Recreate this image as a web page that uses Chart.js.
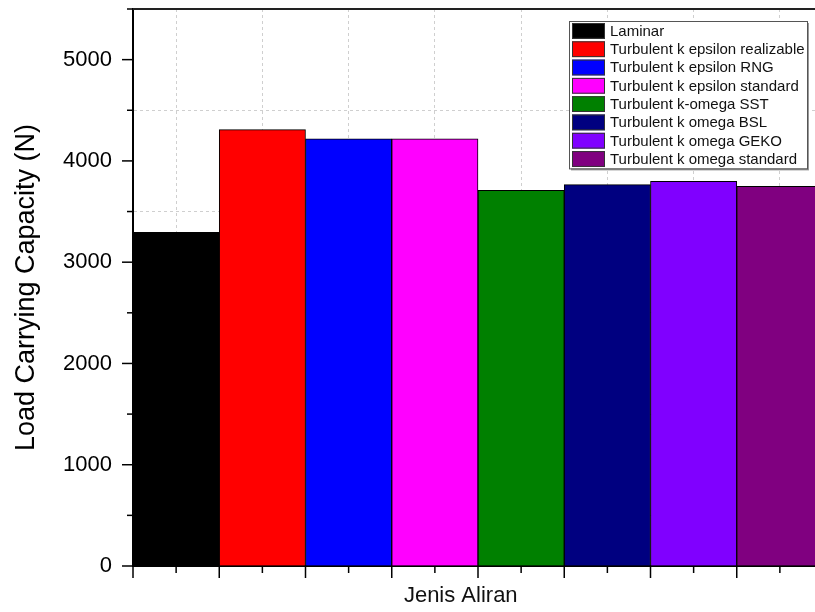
<!DOCTYPE html>
<html>
<head>
<meta charset="utf-8">
<script src="https://cdn.jsdelivr.net/npm/chart.js@4.4.1/dist/chart.umd.min.js"></script>
<style>
  html, body { margin: 0; padding: 0; background: #fff; overflow: hidden; }
  #wrap { position: relative; width: 830px; height: 612px; }
</style>
</head>
<body>
<div id="wrap"><canvas id="chart"></canvas></div>
<script>
const MODELS = [
  "Laminar",
  "Turbulent k epsilon realizable",
  "Turbulent k epsilon RNG",
  "Turbulent k epsilon standard",
  "Turbulent k-omega SST",
  "Turbulent k omega BSL",
  "Turbulent k omega GEKO",
  "Turbulent k omega standard"
];
const LOADS = [3295, 4309, 4217, 4217, 3710, 3766, 3799, 3749];
const COLORS = ["#000000", "#ff0000", "#0000ff", "#ff00ff", "#008000", "#000080", "#8000ff", "#800080"];
const Y_TICKS = [0, 500, 1000, 1500, 2000, 2500, 3000, 3500, 4000, 4500, 5000, 5500];
const X_TITLE = "Jenis Aliran";
const Y_TITLE = "Load Carrying Capacity (N)";

const FONT = '"Liberation Sans", Arial, sans-serif';

function line(ctx, x1, y1, x2, y2) {
  ctx.beginPath();
  ctx.moveTo(x1, y1);
  ctx.lineTo(x2, y2);
  ctx.stroke();
}

function noOverhang(scale) {
  scale.paddingTop = 0;
  scale.paddingBottom = 0;
  scale.paddingLeft = 0;
  scale.paddingRight = 0;
}

// frame, tick marks, x title and the inside legend
const extras = {
  id: "extras",
  afterDraw(chart) {
    const { ctx, chartArea: a, scales: { x, y } } = chart;
    ctx.save();

    ctx.strokeStyle = "#222";
    ctx.lineWidth = 2;
    ctx.beginPath();
    ctx.moveTo(a.left, a.top);
    ctx.lineTo(a.right, a.top);
    ctx.lineTo(a.right, a.bottom);
    ctx.stroke();

    ctx.strokeStyle = "#000";
    ctx.lineWidth = 1.5;
    y.ticks.forEach(t => {
      const py = y.getPixelForValue(t.value);
      const len = t.value % 1000 === 0 ? 11 : 6;
      line(ctx, a.left - len, py, a.left, py);
    });

    const half = (x.getPixelForValue(1) - x.getPixelForValue(0)) / 2;
    MODELS.forEach((m, i) => {
      const cx = x.getPixelForValue(i);
      line(ctx, cx, a.bottom, cx, a.bottom + 7);
      line(ctx, cx - half, a.bottom, cx - half, a.bottom + 12);
      if (i === MODELS.length - 1) line(ctx, cx + half, a.bottom, cx + half, a.bottom + 12);
    });

    ctx.fillStyle = "#111";
    ctx.font = "22px " + FONT;
    ctx.textAlign = "center";
    ctx.textBaseline = "middle";
    ctx.fillText(X_TITLE, a.left + (a.right - a.left) * 0.475, a.bottom + 30);

    // legend box
    const rowH = 18.3;
    const boxW = 238;
    const boxH = rowH * MODELS.length + 1;
    const bx = a.right - 16 - boxW;
    const by = a.top + 12;
    ctx.fillStyle = "#999";
    ctx.fillRect(bx + 2, by + 2, boxW, boxH);
    ctx.fillStyle = "#fff";
    ctx.fillRect(bx, by, boxW, boxH);
    ctx.strokeStyle = "#555";
    ctx.lineWidth = 1;
    ctx.strokeRect(bx + 0.5, by + 0.5, boxW, boxH);

    ctx.font = "15px " + FONT;
    ctx.textAlign = "left";
    MODELS.forEach((m, i) => {
      const ry = by + 1 + i * rowH;
      ctx.fillStyle = COLORS[i];
      ctx.fillRect(bx + 3, ry + 1, 33, rowH - 2.5);
      ctx.strokeStyle = "#333";
      ctx.strokeRect(bx + 3.5, ry + 1.5, 32, rowH - 3.5);
      ctx.fillStyle = "#111";
      ctx.fillText(m, bx + 41, ry + rowH / 2 + 0.5);
    });

    ctx.restore();
  }
};

new Chart(document.getElementById("chart"), {
  type: "bar",
  data: {
    labels: MODELS,
    datasets: [{
      data: LOADS,
      backgroundColor: COLORS,
      borderColor: "#000",
      borderWidth: 1,
      barPercentage: 1,
      categoryPercentage: 1
    }]
  },
  options: {
    responsive: true,
    maintainAspectRatio: false,
    animation: false,
    layout: { padding: { top: 9, right: 7, bottom: 0, left: 0 } },
    plugins: {
      legend: { display: false },
      tooltip: { enabled: false }
    },
    scales: {
      x: {
        afterFit: scale => { scale.height = 46; noOverhang(scale); },
        ticks: { display: false },
        grid: { offset: false, color: "#cfcfcf", lineWidth: 1, drawTicks: false },
        border: { display: true, color: "#000", width: 2, dash: [3, 3] }
      },
      y: {
        min: 0,
        max: 5500,
        afterFit: scale => { scale.width = 133; noOverhang(scale); },
        afterBuildTicks: scale => { scale.ticks = Y_TICKS.map(value => ({ value })); },
        ticks: {
          padding: 21,
          color: "#000",
          font: { family: FONT, size: 22 },
          callback: value => (value % 1000 === 0 ? String(value) : "")
        },
        grid: {
          drawTicks: false,
          lineWidth: 1,
          color: c => (c.tick && c.tick.value % 1000 === 500 ? "#cfcfcf" : "rgba(0,0,0,0)")
        },
        border: { display: true, color: "#000", width: 2, dash: [3, 3] },
        title: {
          display: true,
          text: Y_TITLE,
          color: "#000",
          font: { family: FONT, size: 27 },
          padding: { top: 10, bottom: 0 }
        }
      }
    }
  },
  plugins: [extras]
});
</script>
</body>
</html>
